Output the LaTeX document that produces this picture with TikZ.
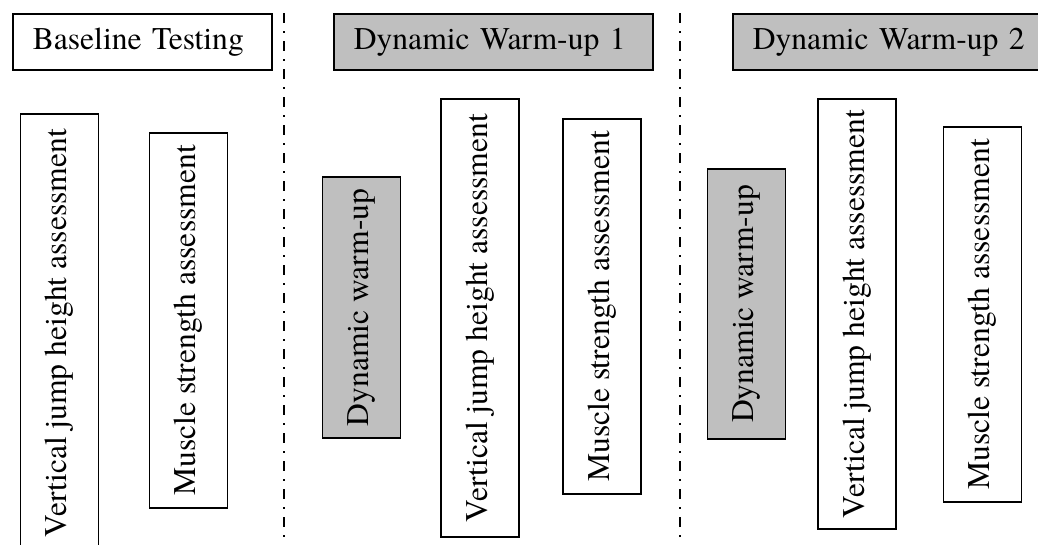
\documentclass[tikz,border=0pt]{standalone}
\usepackage{fontspec}
\setmainfont{TeX Gyre Termes}
\definecolor{boxgray}{RGB}{191,191,191}

\begin{document}
\begin{tikzpicture}[x=0.75pt,y=0.75pt,yscale=-1,xscale=1,
    hdr/.style={draw,line width=1.2pt,anchor=north west,align=left,inner xsep=15pt,inner ysep=0pt,minimum height=42pt,font=\fontsize{23.7}{28}\selectfont},
    vbox/.style={draw,line width=1.2pt,rotate=90,inner sep=0pt,minimum height=58.5pt,font=\fontsize{23.7}{28}\selectfont},
    divider/.style={line width=1.8pt,dash pattern=on 7.5pt off 6pt on 1.5pt off 6pt}]
\useasboundingbox (0,0) rectangle (1038,544);
\node [hdr,text width=164.25pt] (base) at (12,13) {Baseline Testing};
\node [hdr,fill=boxgray,text width=209.25pt] (dwone) at (333,13) {Dynamic Warm-up 1};
\node [hdr,fill=boxgray,text width=209.25pt] (dwtwo) at (732,13) {Dynamic Warm-up 2};
\coordinate (divatop) at (284,13);
\coordinate (divabot) at (284,544);
\coordinate (divbtop) at (680,13);
\coordinate (divbbot) at (680,544);
\draw [divider] (divatop) -- (divabot);
\draw [divider] (divbtop) -- (divbbot);
\node [vbox,minimum width=328.5pt] (jumpa) at (59.5,333) {Vertical jump height assessment};
\node [vbox,minimum width=281.25pt] (musclea) at (188.5,320.5) {Muscle strength assessment};
\node [vbox,fill=boxgray,minimum width=195.75pt] (warma) at (361.5,307.5) {Dynamic warm-up};
\node [vbox,minimum width=328.5pt] (jumpb) at (480,318) {Vertical jump height assessment};
\node [vbox,minimum width=281.25pt] (muscleb) at (602,306.5) {Muscle strength assessment};
\node [vbox,fill=boxgray,minimum width=202.5pt] (warmb) at (746.5,304) {Dynamic warm-up};
\node [vbox,minimum width=322.5pt] (jumpc) at (857,314) {Vertical jump height assessment};
\node [vbox,minimum width=281.25pt] (musclec) at (982.5,314.5) {Muscle strength assessment};
\end{tikzpicture}
\end{document}
